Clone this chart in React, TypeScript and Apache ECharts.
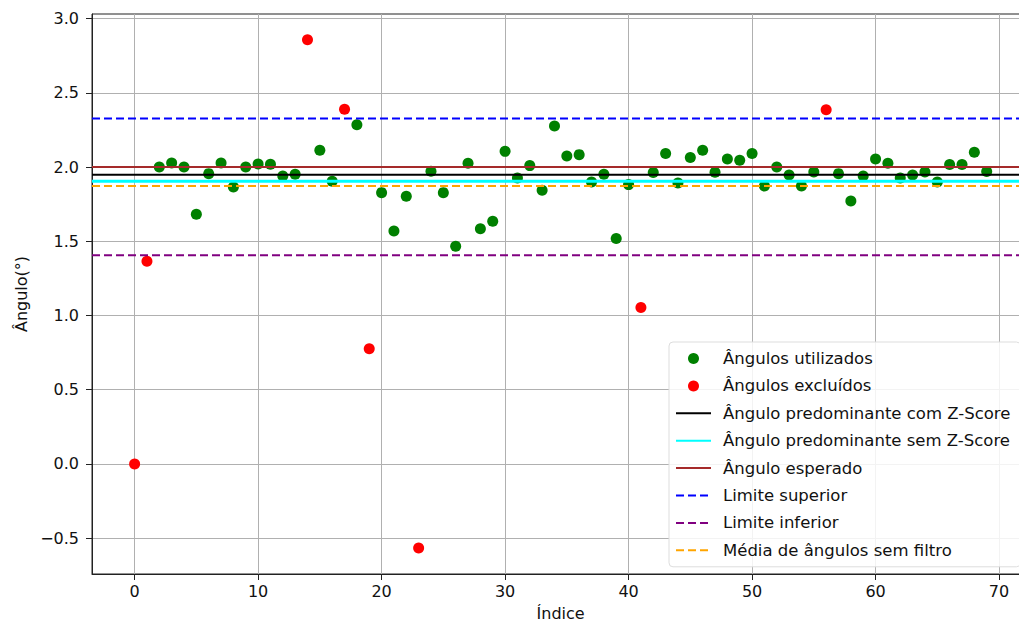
import React, { useEffect, useRef } from "react";
import * as echarts from "echarts";

// ---- Data ----
const angles: number[] = [
  0.0, 1.366, 2.0, 2.028, 2.0, 1.682, 1.956, 2.028, 1.866, 2.0,
  2.021, 2.019, 1.94, 1.952, 2.858, 2.113, 1.904, 2.389, 2.286, 0.776,
  1.828, 1.57, 1.804, -0.567, 1.972, 1.828, 1.467, 2.026, 1.584, 1.635,
  2.106, 1.927, 2.01, 1.844, 2.277, 2.075, 2.084, 1.9, 1.952, 1.519,
  1.882, 1.054, 1.963, 2.091, 1.893, 2.064, 2.113, 1.965, 2.055, 2.046,
  2.091, 1.873, 2.0, 1.947, 1.873, 1.967, 2.387, 1.956, 1.772, 1.94,
  2.055, 2.026, 1.927, 1.947, 1.967, 1.9, 2.017, 2.017, 2.1, 1.97,
];
const excludedIndices: number[] = [0, 1, 14, 17, 19, 23, 41, 56];

const predominantWithZ = 1.949;
const predominantWithoutZ = 1.904;
const expectedAngle = 2.0;
const upperLimit = 2.328;
const lowerLimit = 1.406;
const meanNoFilter = 1.873;

const xTicks: number[] = [0, 10, 20, 30, 40, 50, 60, 70];
const yTicks: number[] = [-0.5, 0, 0.5, 1.0, 1.5, 2.0, 2.5, 3.0];
const xRange: [number, number] = [-3.45, 72.45];
const yRange: [number, number] = [-0.7415, 3.0315];

const FONT = "DejaVu Sans";

export default function App() {
  const ref = useRef<HTMLDivElement>(null);
  useEffect(() => {
    if (!ref.current) return;
    const chart = echarts.init(ref.current, undefined, { renderer: "svg" });
    const used: number[][] = [];
    const excluded: number[][] = [];
    angles.forEach((v, i) => {
      if (excludedIndices.includes(i)) excluded.push([i, v]);
      else used.push([i, v]);
    });
    const hLine = (
      name: string,
      value: number,
      color: string,
      type: any,
      width: number
    ) => ({
      name,
      type: "line",
      data: [
        [xRange[0], value],
        [xRange[1], value],
      ],
      symbol: "none",
      z: 3,
      lineStyle: { color, type, width },
      itemStyle: { color },
      silent: true,
    });
    const lineLegend = (name: string) => ({ name, itemStyle: { opacity: 0 } });
    chart.setOption({
      animation: false,
      textStyle: { fontFamily: FONT },
      grid: {
        left: 92,
        right: 15.7,
        top: 14,
        bottom: 49,
        outerBoundsMode: "none",
        containLabel: false,
        show: true,
        borderColor: "#222",
        borderWidth: 1,
        backgroundColor: "transparent",
      },
      xAxis: {
        type: "value",
        min: xRange[0],
        max: xRange[1],
        name: "Índice",
        nameLocation: "middle",
        nameGap: 31,
        nameTextStyle: { fontSize: 16, color: "#111", fontFamily: FONT },
        axisLine: { show: true, onZero: false, lineStyle: { color: "#222", width: 1 } },
        axisTick: {
          show: true,
          length: 6,
          inside: false,
          customValues: xTicks,
          lineStyle: { color: "#222", width: 1 },
        },
        axisLabel: {
          customValues: xTicks,
          fontSize: 16,
          color: "#111",
          margin: 9,
          fontFamily: FONT,
        },
        splitLine: { show: true, lineStyle: { color: "#b0b0b0", width: 1 } },
      },
      yAxis: {
        type: "value",
        min: yRange[0],
        max: yRange[1],
        name: "Ângulo(°)",
        nameLocation: "middle",
        nameRotate: 90,
        nameGap: 55,
        nameTextStyle: { fontSize: 16, color: "#111", fontFamily: FONT },
        axisLine: { show: true, onZero: false, lineStyle: { color: "#222", width: 1 } },
        axisTick: {
          show: true,
          length: 6,
          inside: false,
          customValues: yTicks,
          lineStyle: { color: "#222", width: 1 },
        },
        axisLabel: {
          customValues: yTicks,
          fontSize: 16,
          color: "#111",
          margin: 13,
          fontFamily: FONT,
          formatter: (v: number) => {
            const s = v.toFixed(1);
            return v < 0 ? "\u2212" + s.slice(1) : s;
          },
        },
        splitLine: { show: true, lineStyle: { color: "#b0b0b0", width: 1 } },
      },
      legend: {
        orient: "vertical",
        left: 669,
        top: 342,
        padding: [8, 10, 8, 6],
        itemWidth: 35,
        itemHeight: 11,
        itemGap: 10.4,
        backgroundColor: "rgba(255,255,255,0.85)",
        borderColor: "#dddddd",
        borderWidth: 1,
        borderRadius: 4,
        textStyle: {
          fontSize: 16.5,
          lineHeight: 16,
          color: "#111",
          fontFamily: FONT,
          padding: [0, 0, 0, 7],
        },
        data: [
          { name: "Ângulos utilizados", icon: "circle" },
          { name: "Ângulos excluídos", icon: "circle" },
          lineLegend("Ângulo predominante com Z-Score"),
          lineLegend("Ângulo predominante sem Z-Score"),
          lineLegend("Ângulo esperado"),
          lineLegend("Limite superior"),
          lineLegend("Limite inferior"),
          lineLegend("Média de ângulos sem filtro"),
        ],
      },
      series: [
        {
          name: "Ângulos utilizados",
          type: "scatter",
          data: used,
          symbolSize: 11,
          itemStyle: { color: "#008000", opacity: 1 },
          z: 2,
        },
        {
          name: "Ângulos excluídos",
          type: "scatter",
          data: excluded,
          symbolSize: 11,
          itemStyle: { color: "#ff0000", opacity: 1 },
          z: 2,
        },
        hLine("Ângulo predominante com Z-Score", predominantWithZ, "#000000", "solid", 2),
        hLine("Ângulo predominante sem Z-Score", predominantWithoutZ, "#00ffff", "solid", 3),
        hLine("Ângulo esperado", expectedAngle, "#a52a2a", "solid", 2),
        hLine("Limite superior", upperLimit, "#0000ff", [8, 4], 2),
        hLine("Limite inferior", lowerLimit, "#800080", [8, 4], 2),
        hLine("Média de ângulos sem filtro", meanNoFilter, "#ffa500", [8, 4], 2),
      ],
    });
    return () => chart.dispose();
  }, []);
  return (
    <div
      style={{
        position: "fixed",
        left: 0,
        top: 0,
        width: 1019,
        height: 623,
        overflow: "hidden",
        background: "#fff",
      }}
    >
      <div ref={ref} style={{ width: 1045, height: 623 }} />
    </div>
  );
}
